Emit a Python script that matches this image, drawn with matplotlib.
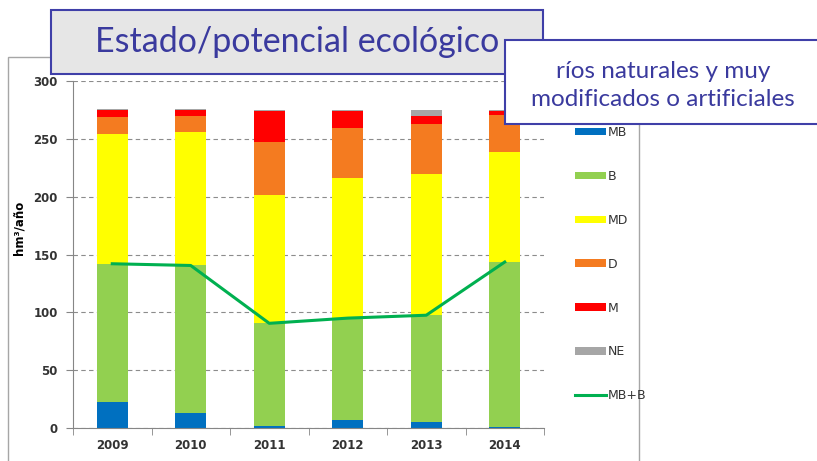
import numpy as np
import matplotlib.pyplot as plt
from matplotlib.patches import Rectangle, Patch
from matplotlib.lines import Line2D

# data (hm3/año)
years = ['2009', '2010', '2011', '2012', '2013', '2014']
mb = [22.5, 13, 2, 6.5, 5, 1]
b = [119.5, 127.5, 88.5, 88.5, 92.5, 142.5]
md = [112, 115, 111, 121.5, 122, 95]
d = [14.5, 14.5, 46, 43, 43.5, 32]
m = [6.5, 5, 26.5, 14.5, 6.5, 3.5]
ne = [1, 1, 1, 1, 5.5, 1]
mb_b = [142, 140.5, 90.5, 95, 97.5, 143.5]

labels = ['MB', 'B', 'MD', 'D', 'M', 'NE']
colors = ['#0070C0', '#92D050', '#FFFF00', '#F47B20', '#FF0000', '#A6A6A6']
line_color = '#00B050'
blue_txt = '#3A3A9E'

fig = plt.figure(figsize=(8.17, 4.61), dpi=100)
ax = fig.add_axes([73/817, 1-428/461, 471/817, 347/461])

x = np.arange(len(years))
bottom = np.zeros(len(years))
handles = []
for vals, lab, col in zip([mb, b, md, d, m, ne], labels, colors):
    ax.bar(x, vals, width=0.4, bottom=bottom, color=col, zorder=2)
    bottom += np.array(vals)
    handles.append(Patch(facecolor=col, label=lab))

ax.plot(x, mb_b, color=line_color, lw=2.2, zorder=3)
handles.append(Line2D([0], [0], color=line_color, lw=2.2, label='MB+B'))

ax.set_xlim(-0.5, len(years) - 0.5)
ax.set_ylim(0, 300)
ax.set_yticks(np.arange(0, 301, 50))
ax.set_xticks(x)
ax.set_xticklabels(years)
ax.set_xticks(np.arange(-0.5, len(years), 1), minor=True)
ax.tick_params(axis='x', which='major', length=0, pad=8)
ax.tick_params(axis='x', which='minor', length=5, color='#868686', direction='out')
ax.tick_params(axis='y', length=5, color='#868686', pad=6)
for t in ax.get_xticklabels() + ax.get_yticklabels():
    t.set_fontsize(8.5)
    t.set_fontweight('bold')
    t.set_color('#333333')
ax.yaxis.grid(True, ls=(0, (4, 3)), color='#8c8c8c', lw=0.8, zorder=0)
ax.set_axisbelow(True)
for s in ['top', 'right']:
    ax.spines[s].set_visible(False)
for s in ['left', 'bottom']:
    ax.spines[s].set_color('#868686')
ax.set_ylabel('hm³/año', fontsize=8.5, fontweight='bold')
ax.yaxis.set_label_coords(-0.1, 0.576)

leg = fig.legend(handles=handles, loc='upper left', bbox_to_anchor=(570/817, 1-121/461),
                 frameon=False, fontsize=9, handlelength=2.5, handleheight=0.55,
                 handletextpad=0.1, labelspacing=2.47, borderaxespad=0)
for t in leg.get_texts():
    t.set_color('#333333')

# outer chart frame
fig.add_artist(Rectangle((8/817, -0.1), 631/817, 1.1 - 57/461, transform=fig.transFigure,
                         fill=False, ec='#a6a6a6', lw=1, zorder=1))

# title box
fig.add_artist(Rectangle((51/817, 1-74/461), 492/817, 64/461, transform=fig.transFigure,
                         fc='#E6E6E6', ec='#3F3FA8', lw=1.5, zorder=10))
fig.text(297/817, 1-42/461, 'Estado/potencial ecológico', fontsize=24.5, family='Lato',
         color=blue_txt, ha='center', va='center', zorder=11)

# subtitle box
fig.add_artist(Rectangle((505/817, 1-124/461), 0.5, 84/461, transform=fig.transFigure,
                         fc='white', ec='#3F3FA8', lw=1.5, zorder=10))
fig.text(663/817, 1-71/461, 'ríos naturales y muy', fontsize=17.5, family='Lato',
         color=blue_txt, ha='center', va='center', zorder=11)
fig.text(663/817, 1-100/461, 'modificados o artificiales', fontsize=17.5, family='Lato',
         color=blue_txt, ha='center', va='center', zorder=11)

fig.savefig('out.png', dpi=100)
